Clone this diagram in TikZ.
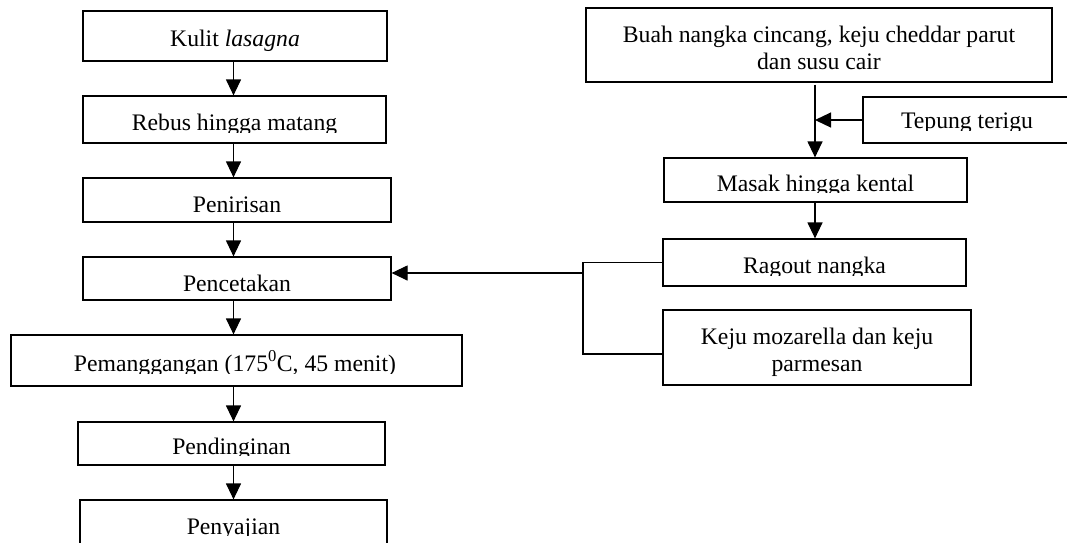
\documentclass[tikz,border=0pt]{standalone}
\usepackage{fontspec}
\setmainfont{Liberation Serif}
\usetikzlibrary{arrows.meta}
\begin{document}
\begin{tikzpicture}[x=1pt,y=-1pt,
  box/.style 2 args={draw, line width=1.2pt, inner sep=0pt, minimum width=#1pt, minimum height=#2pt},
  txt/.style={anchor=base, inner sep=0pt, font=\fontsize{23.7}{27.3}\selectfont},
  conn/.style={line width=1.2pt},
  arr/.style={line width=1.2pt, -{Triangle[length=16pt,width=15pt]}}]
\clip (0,0) rectangle (1067,542);
\fill[white] (0,0) rectangle (1067,542);
% ---------- left column ----------
\node[box={304}{50}] (kulit) at (235,36) {};
\node[txt] (tkulit) at (235,46) {Kulit \textit{lasagna}};
\node[box={303}{47}] (rebus) at (234.5,119.5) {};
\begin{scope}
  \clip (83,96) rectangle (386,132);
  \node[txt] (trebus) at (234.5,130.5) {Rebus hingga matang};
\end{scope}
\node[box={308}{44}] (penirisan) at (237,200) {};
\node[txt] (tpenirisan) at (237,212) {Penirisan};
\node[box={308}{43}] (pencetakan) at (237,278.5) {};
\node[txt] (tpencetakan) at (237,291) {Pencetakan};
\node[box={451}{51}] (pemanggangan) at (236.5,360.5) {};
\begin{scope}
  \clip (11,335) rectangle (462,373);
  \node[txt] (tpemanggangan) at (235,371) {Pemanggangan (175\textsuperscript{0}C, 45 menit)};
\end{scope}
\node[box={307}{43}] (pendinginan) at (231.5,443.5) {};
\begin{scope}
  \clip (78,422) rectangle (385,455.5);
  \node[txt] (tpendinginan) at (231.5,454) {Pendinginan};
\end{scope}
\node[box={307}{50}] (penyajian) at (233.5,525) {};
\begin{scope}
  \clip (80,500) rectangle (387,535.5);
  \node[txt] (tpenyajian) at (233.5,534) {Penyajian};
\end{scope}
% ---------- right column ----------
\node[box={466}{74}] (buah) at (819,45) {};
\node[txt] (tbuah) at (819,42) {\begin{tabular}[t]{@{}c@{}}Buah nangka cincang, keju cheddar parut\\dan susu cair\end{tabular}};
\node[box={208}{46}] (tepung) at (967,120) {};
\begin{scope}
  \clip (863,97) rectangle (1071,130);
  \node[txt] (ttepung) at (967,128.5) {Tepung terigu};
\end{scope}
\node[box={303}{44}] (masak) at (815.5,180) {};
\begin{scope}
  \clip (664,158) rectangle (967,192.5);
  \node[txt] (tmasak) at (815.5,191) {Masak hingga kental};
\end{scope}
\node[box={303}{47}] (ragout) at (814.5,262.5) {};
\begin{scope}
  \clip (663,239) rectangle (966,275.5);
  \node[txt] (tragout) at (814.5,273) {Ragout nangka};
\end{scope}
\node[box={308}{75}] (keju) at (817,347.5) {};
\node[txt] (tkeju) at (817,344) {\begin{tabular}[t]{@{}c@{}}Keju mozarella dan keju\\parmesan\end{tabular}};
% ---------- connectors ----------
\coordinate (ax) at (233.5,0);
\draw[arr] (kulit.south -| ax) -- (rebus.north -| ax);
\draw[arr] (rebus.south -| ax) -- (penirisan.north -| ax);
\draw[arr] (penirisan.south -| ax) -- (pencetakan.north -| ax);
\draw[arr] (pencetakan.south -| ax) -- (pemanggangan.north -| ax);
\draw[arr] (pemanggangan.south -| ax) -- (pendinginan.north -| ax);
\draw[arr] (pendinginan.south -| ax) -- (penyajian.north -| ax);
\coordinate (vx) at (815,0);
\draw[arr] ([yshift=-2pt]buah.south -| vx) -- (masak.north -| vx);
\draw[arr] (tepung.west) -- (tepung.west -| vx);
\draw[arr] (masak.south -| vx) -- (ragout.north -| vx);
\coordinate (btop) at (583,262.5);
\coordinate (bbot) at (583,354);
\coordinate (bmid) at (583,273);
\coordinate (kejuin) at (663,354);
\draw[conn] (ragout.west) -- (btop) -- (bbot) -- (kejuin);
\draw[arr] (bmid) -- (pencetakan.east |- bmid);
\end{tikzpicture}
\end{document}
